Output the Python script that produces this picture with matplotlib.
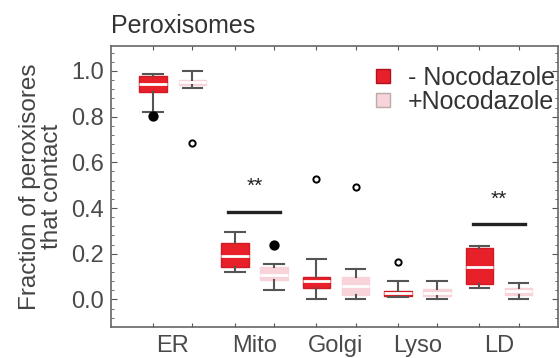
import matplotlib.pyplot as plt
from matplotlib.lines import Line2D

plt.rcParams['font.family'] = ['Liberation Sans', 'DejaVu Sans']

groups = ['ER', 'Mito', 'Golgi', 'Lyso', 'LD']

# - Nocodazole (red)
minus_whislo = [0.82, 0.122, 0.0, 0.01, 0.052]
minus_q1 = [0.908, 0.144, 0.052, 0.015, 0.066]
minus_med = [0.943, 0.188, 0.08, 0.026, 0.14]
minus_q3 = [0.978, 0.249, 0.10, 0.038, 0.227]
minus_whishi = [0.985, 0.297, 0.175, 0.079, 0.235]

# + Nocodazole (pink)
plus_whislo = [0.925, 0.04, 0.0, 0.0, 0.0]
plus_q1 = [0.94, 0.087, 0.02, 0.017, 0.02]
plus_med = [0.95, 0.109, 0.06, 0.03, 0.035]
plus_q3 = [0.96, 0.14, 0.10, 0.044, 0.05]
plus_whishi = [1.0, 0.153, 0.135, 0.079, 0.07]

# outliers: group index, side (0 = minus, 1 = plus), value, filled
out_group = [0, 0, 1, 2, 2, 3]
out_side = [0, 1, 1, 0, 1, 0]
out_val = [0.805, 0.686, 0.24, 0.528, 0.494, 0.166]
out_filled = [True, False, True, False, False, False]

# significance
sig_group = [1, 4]
sig_y = [0.384, 0.328]
sig_text = ['**', '**']

red = '#e8202a'
pink = '#f8d3d9'
grey = '#555555'

fig = plt.figure(figsize=(5.6, 3.58), dpi=100)
ax = fig.add_axes([0.198, 0.087, 0.798, 0.785])

off = 0.24
pos_minus = [i - off for i in range(len(groups))]
pos_plus = [i + off for i in range(len(groups))]


def stats(lo, q1, med, q3, hi):
    return [dict(whislo=a, q1=b, med=c, q3=d, whishi=e, fliers=[])
            for a, b, c, d, e in zip(lo, q1, med, q3, hi)]


for st, pos, col, ec in [
        (stats(minus_whislo, minus_q1, minus_med, minus_q3, minus_whishi), pos_minus, red, '#d01a24'),
        (stats(plus_whislo, plus_q1, plus_med, plus_q3, plus_whishi), pos_plus, pink, pink)]:
    ax.bxp(st, positions=pos, widths=0.34, patch_artist=True, showfliers=False,
           boxprops=dict(facecolor=col, edgecolor=ec, linewidth=1),
           medianprops=dict(color='white', linewidth=2),
           whiskerprops=dict(color=grey, linewidth=1.5),
           capprops=dict(color=grey, linewidth=1.5), capwidths=0.24,
           zorder=3)

for g, s, v, f in zip(out_group, out_side, out_val, out_filled):
    x = pos_minus[g] if s == 0 else pos_plus[g]
    ax.plot(x, v, 'o', ms=6 if f else 4.5, mfc='black' if f else 'white',
            mec='black', mew=1.4, zorder=4)

for g, y, t in zip(sig_group, sig_y, sig_text):
    ax.plot([g - 0.32, g + 0.32], [y, y], color='#222222', lw=2.4)
    ax.text(g, y + 0.07, t, ha='center', va='bottom', fontsize=15, color='#222222')

ax.set_xlim(-0.76, 4.72)
ax.set_ylim(-0.12, 1.11)
ax.set_yticks([0.0, 0.2, 0.4, 0.6, 0.8, 1.0])
ax.set_yticklabels(['0.0', '0.2', '0.4', '0.6', '0.8', '1.0'], fontsize=17, color='#4a4a4a')
ax.set_yticks([i * 0.04 for i in range(-2, 28)], minor=True)
ax.set_xticks(sorted(pos_minus + pos_plus))
ax.set_xticklabels([''] * 10)
ax.set_xticks(range(len(groups)), groups, minor=True, fontsize=17, color='#4a4a4a')
ax.tick_params(axis='x', which='minor', length=0, pad=6)
ax.tick_params(axis='x', which='major', direction='in', top=True, length=3, color=grey)
ax.tick_params(axis='y', which='both', direction='in', right=True, color=grey, pad=5)
ax.tick_params(axis='y', which='major', length=4)
ax.tick_params(axis='y', which='minor', length=2)
for sp in ax.spines.values():
    sp.set_color('#666666')
    sp.set_linewidth(1.2)

ax.set_ylabel('Fraction of peroxisores\nthat contact', fontsize=17.5, color='#444444',
              linespacing=1.0, labelpad=6)
ax.set_title('Peroxisomes', loc='left', fontsize=18, color='#333333', pad=9)

handles = [Line2D([], [], ls='', marker='s', ms=10, mfc=red, mec='#b01020'),
           Line2D([], [], ls='', marker='s', ms=10, mfc=pink, mec='#bbaaaa')]
ax.legend(handles, ['- Nocodazole', '+Nocodazole'], loc='upper right', frameon=False,
          fontsize=18, handlelength=0.8, handletextpad=0.6, labelspacing=0.0,
          borderpad=0, borderaxespad=0, labelcolor='#333333',
          bbox_to_anchor=(555 / 560, 1 - 66 / 358), bbox_transform=fig.transFigure)

fig.savefig('out.png', dpi=100)
